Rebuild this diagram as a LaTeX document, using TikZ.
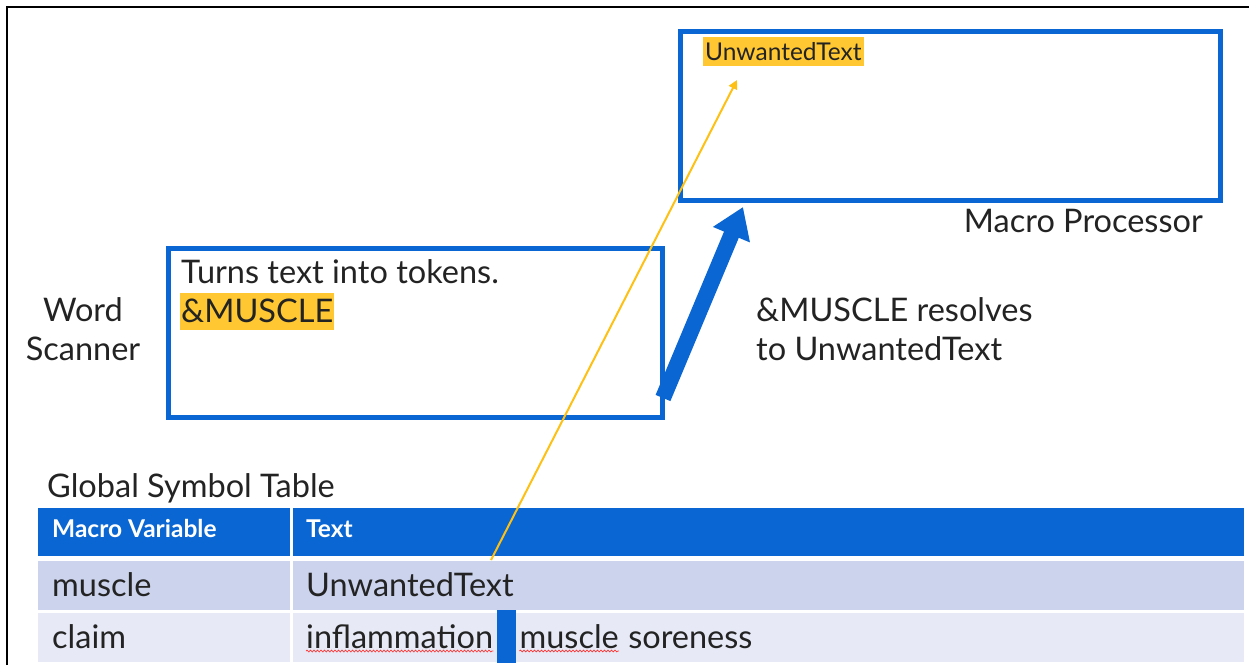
\documentclass[tikz,border=0pt]{standalone}
\usepackage{fontspec}
\setmainfont{Lato}
\usetikzlibrary{arrows.meta,decorations.pathmorphing,calc}
\definecolor{mblue}{RGB}{10,102,210}
\definecolor{hl}{RGB}{255,200,50}
\definecolor{ylw}{RGB}{255,192,20}
\definecolor{rowa}{RGB}{204,211,237}
\definecolor{rowb}{RGB}{231,234,246}
\definecolor{ink}{RGB}{35,35,35}
\tikzset{
  box/.style={draw=mblue,line width=5pt},
  big/.style={font=\fontsize{32.5}{38}\selectfont,text=ink,inner sep=0pt},
  mid/.style={font=\fontsize{32.5}{38}\selectfont,text=ink,inner sep=0pt},
  small/.style={font=\fontsize{24.5}{29}\selectfont,text=ink,inner sep=0pt},
  hdr/.style={font=\fontsize{24.5}{29}\selectfont\bfseries,text=white,inner sep=0pt},
  squig/.style={draw=red!80,line width=0.7pt,decorate,decoration={snake,amplitude=0.9pt,segment length=3.5pt}},
}
\begin{document}
\begin{tikzpicture}[x=1pt,y=-1pt]
\useasboundingbox (0,0) rectangle (1249,665);
% outer frame
\draw[line width=2.2pt,black] (7,665) -- (7,7) -- (1249,7);
% boxes
\node[box,minimum width=540pt,minimum height=169pt,anchor=north west,inner sep=0pt] (mp) at (678,29) {};
\node[box,minimum width=494pt,minimum height=169pt,anchor=north west,inner sep=0pt] (ws) at (166,246) {};
% labels
\node[big,anchor=base east] (mpl) at (1203,232) {Macro Processor};
\node[big,anchor=base] (w1) at (83,321) {Word};
\node[big,anchor=base] (w2) at (83,360) {Scanner};
\node[big,anchor=base west] (tt) at (181,283) {Turns text into tokens.};
\node[big,anchor=base west,fill=hl,inner xsep=1pt,text height=29pt,text depth=8pt] (amp) at (180,322) {\&MUSCLE};
\node[big,anchor=base west] (r1) at (756,321) {\&MUSCLE resolves};
\node[big,anchor=base west] (r2) at (756,360) {to UnwantedText};
\node[small,anchor=base west,fill=hl,inner xsep=2pt,text height=23pt,text depth=6pt] (ut) at (703,60) {UnwantedText};
% table
\node[mid,anchor=base west] (gst) at (47,497) {Global Symbol Table};
\fill[mblue] (38,508) rectangle (290,556);
\fill[mblue] (293,508) rectangle (1244,556);
\fill[rowa] (38,561) rectangle (290,610);
\fill[rowa] (293,561) rectangle (1244,610);
\fill[rowb] (38,613) rectangle (290,662);
\fill[rowb] (293,613) rectangle (1244,662);
\node[hdr,anchor=base west] (h1) at (52,537) {Macro Variable};
\node[hdr,anchor=base west] (h2) at (306,537) {Text};
\node[big,anchor=base west] (c1) at (52,596) {muscle};
\node[big,anchor=base west] (c2) at (306,596) {UnwantedText};
\node[big,anchor=base west] (c3) at (52,648) {claim};
\node[big,anchor=base west] (infl) at (306,648) {inflammation};
\node[fill=mblue,inner sep=0pt,minimum width=19pt,minimum height=53pt,anchor=north west] (cur) at ($(infl.base east)+(3,-38)$) {};
\node[big,anchor=base west] (musc) at ($(infl.base east)+(26,0)$) {muscle};
\node[big,anchor=base west] (sore) at ($(musc.base east)+(9,0)$) {soreness};
\draw[squig] ($(infl.base west)+(0,3)$) -- ($(infl.base east)+(0,3)$);
\draw[squig] ($(musc.base west)+(0,3)$) -- ($(musc.base east)+(0,3)$);
% arrows
\coordinate (bs) at (663,398);
\coordinate (bt) at (743,207);
\draw[mblue,line width=16pt,-{Triangle[width=38pt,length=30pt]}] (bs) -- (bt);
\coordinate (ys) at (491,560);
\coordinate (yt) at (737,80);
\draw[ylw,line width=2pt,-{Triangle[width=9pt,length=9pt]}] (ys) -- (yt);
\end{tikzpicture}
\end{document}
